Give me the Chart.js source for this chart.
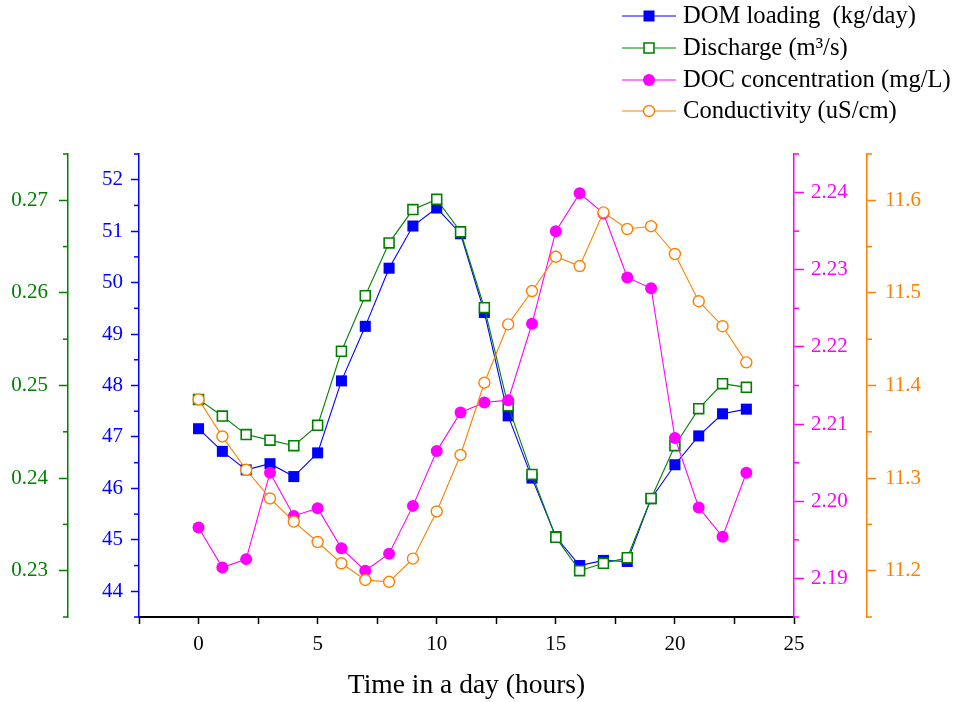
<!DOCTYPE html>
<html>
<head>
<meta charset="utf-8">
<script src="https://cdn.jsdelivr.net/npm/chart.js@4.4.0/dist/chart.umd.min.js"></script>
<style>
  html, body { margin: 0; padding: 0; background: #fff; }
</style>
</head>
<body>
<canvas id="myChart" width="955" height="702"></canvas>
<script>
// hourly values
const hours = [0, 1, 2, 3, 4, 5, 6, 7, 8, 9, 10, 11, 12, 13, 14, 15, 16, 17, 18, 19, 20, 21, 22, 23];
const domLoading = [47.16, 46.72, 46.36, 46.48, 46.23, 46.69, 48.09, 49.15, 50.28, 51.10, 51.45, 50.95,
                    49.42, 47.41, 46.20, 45.06, 44.50, 44.60, 44.58, 45.80, 46.46, 47.02, 47.45, 47.54];
const discharge = [0.2485, 0.2467, 0.2447, 0.2441, 0.2435, 0.2457, 0.2537, 0.2597, 0.2654, 0.2690, 0.2701, 0.2666,
                   0.2584, 0.2478, 0.2404, 0.2336, 0.2300, 0.2308, 0.2314, 0.2378, 0.2435, 0.2475, 0.2502, 0.2498];
const docConc = [2.1966, 2.1914, 2.1925, 2.2037, 2.1981, 2.1991, 2.1939, 2.1910, 2.1932, 2.1994, 2.2065, 2.2115,
                 2.2128, 2.2131, 2.2230, 2.2350, 2.2399, 2.2373, 2.2290, 2.2276, 2.2082, 2.1992, 2.1954, 2.2037];
const conductivity = [11.385, 11.345, 11.309, 11.278, 11.253, 11.231, 11.208, 11.190, 11.188, 11.213, 11.264, 11.325,
                      11.403, 11.466, 11.502, 11.539, 11.529, 11.587, 11.569, 11.572, 11.542, 11.491, 11.464, 11.425];

// tick labels
const xTicks = [-2.5, 0, 2.5, 5, 7.5, 10, 12.5, 15, 17.5, 20, 22.5, 25];
const domTicks = [44, 45, 46, 47, 48, 49, 50, 51, 52];
const dischargeTicks = [0.23, 0.24, 0.25, 0.26, 0.27];
const docTicks = [2.19, 2.20, 2.21, 2.22, 2.23, 2.24];
const condTicks = [11.2, 11.3, 11.4, 11.5, 11.6];

const FONT = '"Liberation Serif", "Times New Roman", serif';

function pts(vals) {
    return hours.map((h, i) => ({ x: h, y: vals[i] }));
}

function fixedTicks(list) {
    return function (scale) {
        scale.ticks = list.map(v => ({ value: v }));
    };
}

function yAxis(pos, color, min, max, list, digits, width, weight, tickLen, pad) {
    return {
        type: 'linear',
        position: pos,
        min: min,
        max: max,
        weight: weight,
        afterBuildTicks: fixedTicks(list),
        afterFit: s => { s.width = width; },
        border: { color: color, width: 1.5 },
        grid: { drawOnChartArea: false, color: color, tickLength: tickLen, tickWidth: 1.5 },
        ticks: {
            color: color,
            padding: pad,
            font: { family: FONT, size: 21 },
            callback: v => Number(v).toFixed(digits)
        }
    };
}

// half-step ticks between the labelled ones
const minorSteps = { yDom: 0.5, yQ: 0.005, yDoc: 0.005, yCond: 0.05 };
const minorTicks = {
    id: 'minorTicks',
    afterDraw(chart) {
        const ctx = chart.ctx;
        Object.keys(minorSteps).forEach(id => {
            const scale = chart.scales[id];
            const step = minorSteps[id];
            const n = Math.round((scale.max - scale.min) / step);
            ctx.save();
            ctx.strokeStyle = scale.options.border.color;
            ctx.lineWidth = 1.5;
            for (let k = 0; k <= n; k += 2) {
                const y = scale.getPixelForValue(scale.min + k * step);
                ctx.beginPath();
                if (scale.position === 'left') {
                    ctx.moveTo(scale.right - 5, y);
                    ctx.lineTo(scale.right, y);
                } else {
                    ctx.moveTo(scale.left, y);
                    ctx.lineTo(scale.left + 5, y);
                }
                ctx.stroke();
            }
            ctx.restore();
        });
    }
};

const legendRows = [16, 48, 80, 111];
const sideLegend = {
    id: 'sideLegend',
    afterDraw(chart) {
        const ctx = chart.ctx;
        chart.data.datasets.forEach((ds, i) => {
            const y = legendRows[i];
            ctx.save();
            ctx.strokeStyle = ds.borderColor;
            ctx.lineWidth = 1;
            ctx.beginPath();
            ctx.moveTo(622, y);
            ctx.lineTo(676, y);
            ctx.stroke();
            ctx.fillStyle = ds.pointBackgroundColor;
            ctx.strokeStyle = ds.pointBorderColor;
            ctx.lineWidth = ds.pointBorderWidth;
            Chart.helpers.drawPoint(ctx, {
                pointStyle: ds.pointStyle, radius: ds.pointRadius, rotation: 0, borderWidth: ds.pointBorderWidth
            }, 649, y);
            ctx.fillStyle = '#000';
            ctx.font = '24.6px ' + FONT;
            ctx.textBaseline = 'middle';
            ctx.fillText(ds.label, 683, y + 1);
            ctx.restore();
        });
    }
};

const data = {
    datasets: [{
        label: 'DOM loading  (kg/day)',
        data: pts(domLoading),
        yAxisID: 'yDom',
        borderColor: '#0000ff',
        borderWidth: 1.1,
        pointStyle: 'rect',
        pointRadius: 7.8,
        pointBackgroundColor: '#0000ff',
        pointBorderColor: '#0000ff',
        pointBorderWidth: 0,
        order: 4
    }, {
        label: 'Discharge (m\u00b3/s)',
        data: pts(discharge),
        yAxisID: 'yQ',
        borderColor: '#008000',
        borderWidth: 1.1,
        pointStyle: 'rect',
        pointRadius: 7,
        pointBackgroundColor: '#ffffff',
        pointBorderColor: '#008000',
        pointBorderWidth: 1.6,
        order: 3
    }, {
        label: 'DOC concentration (mg/L)',
        data: pts(docConc),
        yAxisID: 'yDoc',
        borderColor: '#ff00ff',
        borderWidth: 1.1,
        pointStyle: 'circle',
        pointRadius: 6,
        pointBackgroundColor: '#ff00ff',
        pointBorderColor: '#ff00ff',
        pointBorderWidth: 0,
        order: 2
    }, {
        label: 'Conductivity (uS/cm)',
        data: pts(conductivity),
        yAxisID: 'yCond',
        borderColor: '#ff8000',
        borderWidth: 1.1,
        pointStyle: 'circle',
        pointRadius: 5.5,
        pointBackgroundColor: '#ffffff',
        pointBorderColor: '#ff8000',
        pointBorderWidth: 1.4,
        order: 1
    }]
};

const config = {
    type: 'line',
    data: data,
    options: {
        responsive: false,
        animation: false,
        layout: { padding: { top: 154, left: 0, right: 0, bottom: 0 } },
        plugins: { legend: { display: false }, tooltip: { enabled: false } },
        elements: { line: { tension: 0 } },
        scales: {
            x: {
                type: 'linear',
                position: 'bottom',
                min: -2.5,
                max: 25,
                afterBuildTicks: fixedTicks(xTicks),
                afterFit: s => { s.height = 85; },
                border: { color: '#000', width: 2 },
                grid: { drawOnChartArea: false, color: '#000', tickLength: 7, tickWidth: 1.5 },
                ticks: {
                    color: '#000',
                    padding: 8,
                    maxRotation: 0,
                    autoSkip: false,
                    font: { family: FONT, size: 21 },
                    callback: v => (v >= 0 && v % 5 === 0) ? String(v) : ''
                },
                title: {
                    display: true,
                    text: 'Time in a day (hours)',
                    color: '#000',
                    padding: { top: 0, bottom: 0 },
                    font: { family: FONT, size: 27.5 }
                }
            },
            yQ: yAxis('left', '#008000', 0.225, 0.275, dischargeTicks, 2, 68, 1, 9, 11),
            yDom: yAxis('left', '#0000ff', 43.5, 52.5, domTicks, 0, 71, 0, 8, 8),
            yDoc: yAxis('right', '#ff00ff', 2.185, 2.245, docTicks, 2, 73, 0, 10, 7),
            yCond: yAxis('right', '#ff8000', 11.15, 11.65, condTicks, 1, 88, 1, 9, 9)
        }
    },
    plugins: [minorTicks, sideLegend]
};

let myChart = new Chart(document.getElementById('myChart').getContext('2d'), config);
</script>
</body>
</html>
